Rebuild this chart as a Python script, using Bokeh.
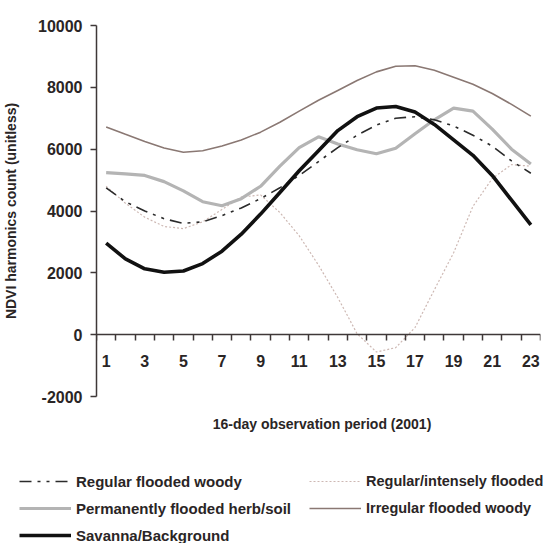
from bokeh.plotting import figure
from bokeh.layouts import column
from bokeh.models import FixedTicker, Legend, LegendItem, Label, Range1d
from bokeh.embed import file_html
from bokeh.resources import INLINE

# ---------------- data ----------------
periods = list(range(1, 24))

regular_flooded_woody = [4750, 4300, 4000, 3750, 3600, 3650, 3850, 4100, 4400, 4750,
                         5150, 5600, 6050, 6450, 6780, 7000, 7050, 6950, 6750, 6450,
                         6100, 5620, 5220]
regular_intensely_flooded = [4800, 4250, 3800, 3500, 3430, 3650, 4050, 4450, 4520, 3950,
                             3200, 2250, 1200, 30, -560, -420, 230, 1450, 2650, 4150,
                             5050, 5500, 5450]
permanently_flooded_herb_soil = [5240, 5200, 5150, 4950, 4650, 4300, 4170, 4400, 4800, 5450,
                                 6050, 6400, 6170, 5980, 5850, 6030, 6500, 6950, 7330, 7230,
                                 6650, 6000, 5520]
irregular_flooded_woody = [6720, 6480, 6250, 6040, 5900, 5950, 6100, 6300, 6550, 6870,
                           7230, 7580, 7900, 8220, 8500, 8680, 8700, 8550, 8330, 8100,
                           7800, 7450, 7070]
savanna_background = [2960, 2450, 2130, 2020, 2060, 2300, 2700, 3250, 3900, 4600,
                      5300, 5950, 6600, 7050, 7330, 7380, 7200, 6800, 6300, 5800,
                      5150, 4350, 3550]

series_names = ["Regular flooded woody", "Regular/intensely flooded",
                "Permanently flooded herb/soil", "Irregular flooded woody",
                "Savanna/Background"]
x_tick_labels = [1, 3, 5, 7, 9, 11, 13, 15, 17, 19, 21, 23]
y_ticks = [-2000, 0, 2000, 4000, 6000, 8000, 10000]

FONT = "Liberation Sans"
TXT = "#2a2525"
AXC = "#3f3838"

ST_RFW = dict(line_color="#2b2b2b", line_width=1.6, line_dash="12 6 3 6 3 6")
ST_RIF = dict(line_color="#cdb8b3", line_width=1.2, line_dash="2 2")
ST_PFH = dict(line_color="#b4b4b4", line_width=3.2)
ST_IFW = dict(line_color="#8a7873", line_width=1.6)
ST_SB = dict(line_color="#111111", line_width=3.6)

# ---------------- main chart ----------------
p = figure(width=547, height=410, output_backend="svg", toolbar_location=None,
           x_range=Range1d(0.5, 23.5), y_range=Range1d(-2000, 10000),
           min_border_left=88, min_border_right=7, min_border_top=25,
           min_border_bottom=14)
p.frame_align = False
p.grid.visible = False
p.outline_line_color = None

xa = p.xaxis[0]
xa.fixed_location = 0
xa.ticker = FixedTicker(ticks=x_tick_labels,
                        minor_ticks=[i + 0.5 for i in range(0, 24)])
xa.major_label_overrides = {v: str(v) for v in x_tick_labels}
xa.major_tick_out = 0
xa.major_tick_in = 0
xa.minor_tick_out = 6
xa.minor_tick_in = 0
xa.minor_tick_line_color = AXC
xa.minor_tick_line_width = 1.5
xa.axis_line_color = AXC
xa.axis_line_width = 1.5
xa.major_label_standoff = 14
xa.major_label_text_font = FONT
xa.major_label_text_font_size = "16px"
xa.major_label_text_font_style = "bold"
xa.major_label_text_color = TXT

ya = p.yaxis[0]
ya.ticker = FixedTicker(ticks=y_ticks)
ya.major_label_overrides = {v: str(v) for v in y_ticks}
ya.major_tick_out = 6
ya.major_tick_in = 0
ya.minor_tick_out = 0
ya.minor_tick_in = 0
ya.major_tick_line_color = AXC
ya.major_tick_line_width = 1.5
ya.axis_line_color = AXC
ya.axis_line_width = 1.5
ya.major_label_standoff = 8
ya.major_label_text_font = FONT
ya.major_label_text_font_size = "16px"
ya.major_label_text_font_style = "bold"
ya.major_label_text_color = TXT
ya.axis_label = "NDVI harmonics count (unitless)"
ya.axis_label_text_font = FONT
ya.axis_label_text_font_size = "14px"
ya.axis_label_text_font_style = "bold"
ya.axis_label_text_color = TXT
ya.axis_label_standoff = 16

p.line(periods, irregular_flooded_woody, **ST_IFW)
p.line(periods, regular_intensely_flooded, **ST_RIF)
p.line(periods, permanently_flooded_herb_soil, **ST_PFH)
p.line(periods, regular_flooded_woody, **ST_RFW)
p.line(periods, savanna_background, **ST_SB)

# ---------------- lower panel: axis title + legend ----------------
p2 = figure(width=547, height=133, output_backend="svg", toolbar_location=None,
            x_range=Range1d(1000, 1547), y_range=Range1d(0, 133),
            x_axis_type=None, y_axis_type=None, min_border=0,
            min_border_left=0, min_border_right=0, min_border_top=0,
            min_border_bottom=0)
p2.frame_align = False
p2.grid.visible = False
p2.outline_line_color = None

p2.add_layout(Label(x=321.5, y=120, x_units="screen", y_units="screen",
                    text="16-day observation period (2001)",
                    text_align="center", text_baseline="middle", text_font=FONT,
                    text_font_size="14px", text_font_style="bold", text_color=TXT))

# legend-only copies of the series (outside this panel's visible range)
l_rfw = p2.line(periods, regular_flooded_woody, **ST_RFW)
l_rif = p2.line(periods, regular_intensely_flooded, **ST_RIF)
l_pfh = p2.line(periods, permanently_flooded_herb_soil, **ST_PFH)
l_ifw = p2.line(periods, irregular_flooded_woody, **ST_IFW)
l_sb = p2.line(periods, savanna_background, **ST_SB)


def make_legend(items, loc, size):
    return Legend(items=items, location=loc, orientation="vertical",
                  glyph_width=52, glyph_height=20, label_height=20,
                  label_standoff=5, spacing=7, padding=0, margin=0,
                  border_line_alpha=0, background_fill_alpha=0,
                  label_text_font=FONT, label_text_font_size=size,
                  label_text_font_style="bold", label_text_color=TXT)


leg1 = make_legend([LegendItem(label=series_names[0], renderers=[l_rfw]),
                    LegendItem(label=series_names[2], renderers=[l_pfh]),
                    LegendItem(label=series_names[4], renderers=[l_sb])],
                   (19, -2), "15px")
leg2 = make_legend([LegendItem(label=series_names[1], renderers=[l_rif]),
                    LegendItem(label=series_names[3], renderers=[l_ifw])],
                   (309, 25), "14.5px")
p2.add_layout(leg1)
p2.add_layout(leg2)

layout = column(p, p2, spacing=0)
open("out.html", "w").write(file_html(layout, INLINE))
